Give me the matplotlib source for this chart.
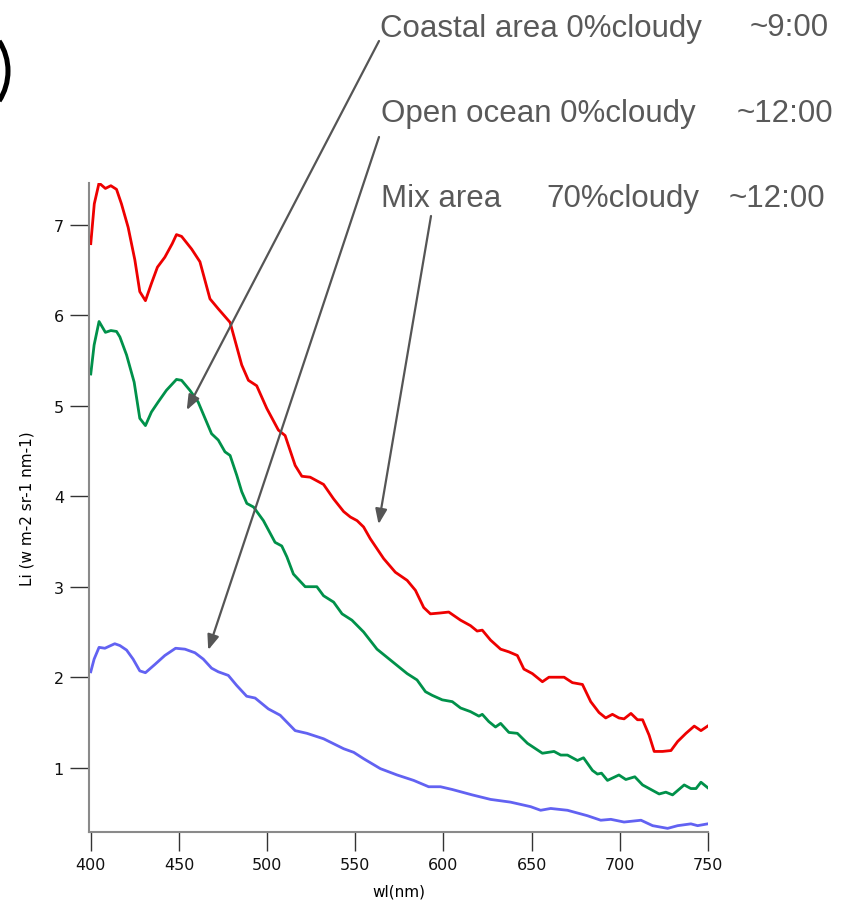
import matplotlib
matplotlib.use("Agg")
import matplotlib.pyplot as plt
from matplotlib.patches import Arc

# Sky radiance spectra Li (W m-2 sr-1 nm-1) for three stations
red_wl = [400, 402, 404.7, 408.3, 411.4, 414.6, 417.4, 421.2, 425, 427.8,
          431, 434.4, 437.8, 442, 446.2, 448.6, 451.5, 457.2, 461.9, 467.6,
          472.3, 479, 485.6, 489.4, 494.1, 499.8, 506.4, 510.2, 515.9, 519.7,
          524.4, 532, 537.7, 543.4, 547.2, 551, 554.7, 558.5, 566.1, 572.7,
          579.4, 584.1, 588.8, 592.6, 598.3, 603, 609.7, 615.3, 619.1, 622,
          626.7, 632.4, 637.1, 641.9, 645.6, 650.4, 656.1, 659.8, 668.4, 673.1,
          678.8, 683.5, 688.2, 692, 695.8, 699.5, 702.4, 706.3, 710, 712.9,
          716.6, 719.5, 724.2, 729, 732.8, 737.5, 742.2, 746, 749.8]
red_li = [6.79, 7.23, 7.46, 7.40, 7.43, 7.39, 7.23, 6.97, 6.61, 6.26,
          6.16, 6.35, 6.53, 6.64, 6.79, 6.89, 6.87, 6.73, 6.59, 6.18,
          6.07, 5.92, 5.45, 5.28, 5.22, 4.97, 4.73, 4.67, 4.34, 4.22,
          4.21, 4.13, 3.97, 3.83, 3.77, 3.73, 3.66, 3.53, 3.31, 3.16,
          3.07, 2.96, 2.77, 2.70, 2.71, 2.72, 2.63, 2.57, 2.51, 2.52,
          2.41, 2.31, 2.28, 2.24, 2.09, 2.04, 1.95, 2.00, 2.00, 1.94,
          1.92, 1.73, 1.61, 1.55, 1.59, 1.55, 1.54, 1.60, 1.53, 1.53,
          1.36, 1.18, 1.18, 1.19, 1.29, 1.38, 1.46, 1.41, 1.46]

green_wl = [400, 401.9, 404.7, 408.3, 411.4, 414.6, 416.5, 420.3, 424.6, 427.8,
            431, 434.4, 438.2, 442.9, 448.6, 451.5, 456.2, 460.9, 464.8, 468.5,
            472.3, 476.1, 479, 482.8, 485.6, 488.5, 492.3, 497.9, 504.5, 508.3,
            511.2, 514.9, 521.6, 528.2, 532, 537.7, 542.5, 548.1, 554.7, 562.3,
            568, 573.7, 579.4, 585, 589.8, 593.6, 599.3, 605, 609.7, 615.3,
            620.1, 622, 625.7, 629.5, 632.4, 637.1, 641.9, 647.6, 656.1, 662.7,
            666.5, 670.3, 676, 679.4, 684.5, 687.3, 689.6, 693, 699.5, 703.4,
            708.5, 712.9, 717.6, 722.3, 726.1, 729.9, 736.5, 740.3, 743.2, 746,
            749.8]
green_li = [5.35, 5.67, 5.93, 5.81, 5.83, 5.82, 5.76, 5.56, 5.26, 4.86,
            4.78, 4.93, 5.04, 5.17, 5.29, 5.28, 5.17, 5.04, 4.86, 4.69,
            4.62, 4.49, 4.45, 4.23, 4.05, 3.92, 3.88, 3.73, 3.49, 3.45,
            3.33, 3.14, 3.00, 3.00, 2.90, 2.83, 2.70, 2.63, 2.50, 2.31,
            2.22, 2.13, 2.04, 1.97, 1.84, 1.80, 1.75, 1.73, 1.66, 1.62,
            1.57, 1.59, 1.51, 1.45, 1.49, 1.39, 1.38, 1.27, 1.16, 1.18,
            1.14, 1.14, 1.08, 1.11, 0.97, 0.93, 0.94, 0.86, 0.92, 0.87,
            0.90, 0.81, 0.76, 0.71, 0.73, 0.70, 0.81, 0.77, 0.77, 0.84,
            0.78]

blue_wl = [400, 401.9, 404.7, 408, 413.6, 416.5, 420.3, 424, 427.8, 431,
           436.3, 442, 448.1, 453.4, 459.1, 463.8, 468.5, 472.3, 478, 482.7,
           488.4, 493.2, 500.7, 507.4, 515.9, 522.6, 532, 543.4, 549.1, 554.7,
           564.2, 573.7, 583.1, 591.6, 598.3, 604.9, 616.3, 626.7, 638, 649.4,
           655.1, 660.8, 670.3, 681.6, 689.2, 694.9, 702.4, 712, 718.6, 727.1,
           732.8, 740.3, 744.1, 749.8]
blue_li = [2.06, 2.20, 2.33, 2.32, 2.37, 2.35, 2.30, 2.20, 2.07, 2.05,
           2.14, 2.24, 2.32, 2.31, 2.27, 2.20, 2.10, 2.06, 2.02, 1.91,
           1.79, 1.77, 1.65, 1.58, 1.41, 1.38, 1.32, 1.21, 1.17, 1.10,
           0.99, 0.92, 0.86, 0.79, 0.79, 0.76, 0.70, 0.65, 0.62, 0.57,
           0.53, 0.55, 0.53, 0.47, 0.42, 0.43, 0.40, 0.42, 0.36, 0.33,
           0.36, 0.38, 0.36, 0.38]

x_ticks = [400, 450, 500, 550, 600, 650, 700, 750]
y_ticks = [1, 2, 3, 4, 5, 6, 7]

W, H = 845, 904
fig = plt.figure(figsize=(W / 100, H / 100), dpi=100)
ax = fig.add_axes([89 / W, 1 - 833 / H, (708 - 89) / W, (833 - 184) / H])

lw = 2.0
ax.plot(red_wl, red_li, color="#ee0000", lw=lw)
ax.plot(green_wl, green_li, color="#00914a", lw=lw)
ax.plot(blue_wl, blue_li, color="#6262f2", lw=lw)

ax.set_xlim(399, 750)
ax.set_ylim(0.29, 7.46)
ax.set_xticks(x_ticks)
ax.set_yticks(y_ticks)
for s in ("top", "right"):
    ax.spines[s].set_visible(False)
for s in ("left", "bottom"):
    ax.spines[s].set_color("#8a8a8a")
    ax.spines[s].set_linewidth(1.5)
ax.tick_params(axis="both", direction="out", length=14, width=1.0,
               color="#333333", labelsize=11.5, labelcolor="#111111", pad=4)
ax.set_xlabel("wl(nm)", fontsize=11, labelpad=8)
ax.set_ylabel("Li (w m-2 sr-1 nm-1)", fontsize=11, labelpad=14)

# Annotations in the upper right, arrows pointing to the curves
txt_color = "#595959"
fs = 22.5
labels = [
    ("Coastal area 0%cloudy", 380, 36.5, "~9:00", 750),
    ("Open ocean 0%cloudy", 381, 122, "~12:00", 737),
    ("Mix area", 381, 207, "~12:00", 729),
]
for main, x0, yb, tm, xt in labels:
    fig.text(x0 / W, 1 - yb / H, main, fontsize=fs, color=txt_color,
             family="Liberation Sans", va="baseline", ha="left")
    fig.text(xt / W, 1 - yb / H, tm, fontsize=fs, color=txt_color,
             family="Liberation Sans", va="baseline", ha="left")
fig.text(546 / W, 1 - 207 / H, "70%cloudy", fontsize=fs, color=txt_color,
         family="Liberation Sans", va="baseline", ha="left")

arrows = [
    ((454.4, 4.95), (379, H - 42)),
    ((466.6, 2.30), (379, H - 138)),
    ((563.2, 3.69), (431, H - 217)),
]
for tip, start in arrows:
    ax.annotate("", xy=tip, xycoords="data",
                xytext=start, textcoords="figure pixels",
                arrowprops=dict(arrowstyle="-|>,head_length=0.9,head_width=0.35",
                                color="#555555", lw=1.6,
                                shrinkA=0, shrinkB=0),
                annotation_clip=False)

# Panel mark ring, partly cut at the left edge
ring = Arc((-0.47, (H - 72) / 100), 1.10, 1.10, theta1=-33, theta2=33,
           transform=fig.dpi_scale_trans, color="black", lw=3.6)
fig.add_artist(ring)

fig.savefig("out.png", dpi=100)
